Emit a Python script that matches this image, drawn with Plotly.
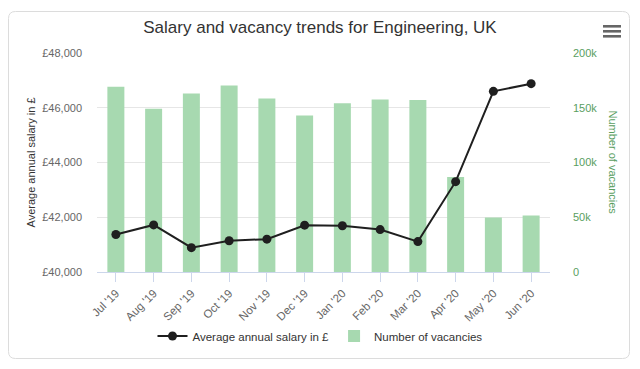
import plotly.graph_objects as go

months = ["Jul '19", "Aug '19", "Sep '19", "Oct '19", "Nov '19", "Dec '19",
          "Jan '20", "Feb '20", "Mar '20", "Apr '20", "May '20", "Jun '20"]
salary = [41370, 41720, 40890, 41140, 41200, 41710, 41690, 41550, 41110, 43300, 46600, 46880]
vacancies = [169200, 149100, 163100, 170400, 158500, 142900, 154200, 157600, 157000, 86700, 49800, 51600]
salary_ticks = [40000, 42000, 44000, 46000, 48000]
salary_ticktext = ["£40,000", "£42,000", "£44,000", "£46,000", "£48,000"]
vac_ticks = [0, 50000, 100000, 150000, 200000]
vac_ticktext = ["0", "50k", "100k", "150k", "200k"]

# the page places the figure 8px from the window's top-left corner
OFF = 8
W, H = 640 - OFF, 369 - OFF
L, R, T, B = 97 - OFF, 550 - OFF, 53 - OFF, 272 - OFF

def px(x):
    return (x - OFF - L) / (R - L)

def py(y):
    return (B - (y - OFF)) / (B - T)

fig = go.Figure()
fig.add_trace(go.Bar(
    x=months, y=vacancies, name="Number of vacancies",
    marker=dict(color="#a7d9b0", line=dict(width=0)),
    width=0.45, yaxis="y",
))
fig.add_trace(go.Scatter(
    x=months, y=salary, name="Average annual salary in £",
    mode="lines+markers", line=dict(color="#1f1f1f", width=2),
    marker=dict(size=9, color="#1f1f1f"), yaxis="y2",
))

# rounded border
x0, x1, y0, y1, r = px(8.5), px(629.5), py(11.5), py(358.5), 7
rx = r / (R - L)
ry = r / (B - T)
path = (f"M {x0+rx},{y0} L {x1-rx},{y0} Q {x1},{y0} {x1},{y0-ry} "
        f"L {x1},{y1+ry} Q {x1},{y1} {x1-rx},{y1} "
        f"L {x0+rx},{y1} Q {x0},{y1} {x0},{y1+ry} "
        f"L {x0},{y0-ry} Q {x0},{y0} {x0+rx},{y0} Z")
shapes = [dict(type="path", xref="paper", yref="paper", path=path,
               line=dict(color="#dcdcdc", width=1), layer="below")]
# hamburger menu icon
for yy in (25, 30, 35):
    shapes.append(dict(type="rect", xref="paper", yref="paper",
                       x0=px(603), x1=px(621), y0=py(yy), y1=py(yy + 2.6),
                       fillcolor="#666666", line=dict(width=0)))

fig.update_layout(
    width=W, height=H,
    margin=dict(l=L, r=W - R, t=T, b=H - B, autoexpand=False),
    paper_bgcolor="white", plot_bgcolor="white",
    font=dict(family="Liberation Sans, Arial, sans-serif", color="#666666", size=11),
    title=dict(text="Salary and vacancy trends for Engineering, UK",
               x=(320 - OFF) / W, xref="container", xanchor="center",
               y=1 - (27 - OFF) / H, yref="container", yanchor="middle",
               font=dict(size=17, color="#333333"), automargin=False),
    bargap=0.55,
    showlegend=True,
    legend=dict(orientation="h", x=(320 - OFF) / W, xref="container", xanchor="center",
                y=1 - (336 - OFF) / H, yref="container", yanchor="middle",
                font=dict(size=11.5, color="#333333"),
                traceorder="reversed", itemwidth=30),
    xaxis=dict(type="category", showgrid=False, showline=True, linecolor="#ccd6eb",
               linewidth=1, ticks="outside", ticklen=9, tickcolor="#ccd6eb",
               tickangle=-45, tickfont=dict(size=11.5, color="#666666"),
               range=[-0.5, 11.5], automargin=False),
    yaxis=dict(side="right", range=[0, 200000], tickvals=vac_ticks, ticktext=vac_ticktext,
               showgrid=True, gridcolor="#e6e6e6", zeroline=False, showline=False,
               tickfont=dict(size=11, color="#5a9e5f"), ticklabelstandoff=22,
               automargin=False),
    yaxis2=dict(overlaying="y", side="left", range=[40000, 48000],
                tickvals=salary_ticks, ticktext=salary_ticktext,
                showgrid=False, zeroline=False, showline=False,
                tickfont=dict(size=11, color="#666666"), ticklabelstandoff=14,
                automargin=False),
    shapes=shapes,
    annotations=[
        dict(text="Average annual salary in £", xref="paper", yref="paper",
             x=px(30), y=0.5, textangle=-90, showarrow=False,
             font=dict(size=11, color="#333333"), xanchor="center", yanchor="middle"),
        dict(text="Number of vacancies", xref="paper", yref="paper",
             x=px(613), y=0.5, textangle=90, showarrow=False,
             font=dict(size=11, color="#5a9e5f"), xanchor="center", yanchor="middle"),
    ],
)

fig.write_html("out.html")
